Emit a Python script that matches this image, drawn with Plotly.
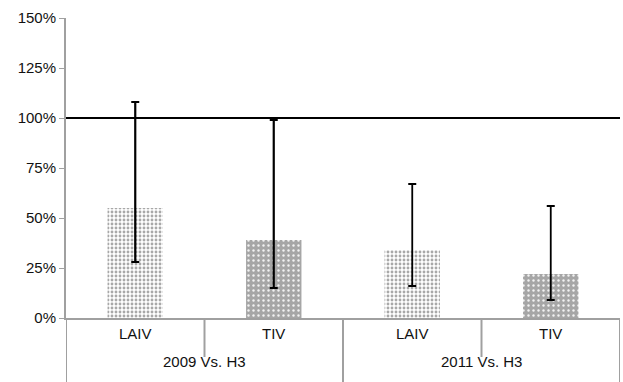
import plotly.graph_objects as go

groups = ["2009 Vs. H3", "2009 Vs. H3", "2011 Vs. H3", "2011 Vs. H3"]
vaccines = ["LAIV", "TIV", "LAIV", "TIV"]
values = [55, 39, 34, 22]
upper = [108, 99, 67, 56]
lower = [28, 15, 16, 9]
y_ticks = [0, 25, 50, 75, 100, 125, 150]
reference_line = 100

xpos = list(range(len(values)))
err_plus = [u - v for u, v in zip(upper, values)]
err_minus = [v - l for v, l in zip(values, lower)]

fig = go.Figure()
styles = {
    "LAIV": dict(color="white", pattern=dict(shape=".", fgcolor="#a8a8a8", bgcolor="white",
                                              size=4, solidity=0.4, fillmode="replace")),
    "TIV": dict(color="#aaaaaa", pattern=dict(shape=".", fgcolor="#f2f2f2", bgcolor="#a6a6a6",
                                               size=5, solidity=0.18, fillmode="replace")),
}
thick = [2.2, 2.2, 1.8, 1.8]
for i, (x, v) in enumerate(zip(xpos, values)):
    fig.add_trace(go.Bar(
        x=[x], y=[v], width=0.4,
        marker=dict(color=styles[vaccines[i]]["color"], pattern=styles[vaccines[i]]["pattern"],
                    line=dict(width=0)),
        error_y=dict(type="data", symmetric=False, array=[err_plus[i]], arrayminus=[err_minus[i]],
                     color="black", thickness=thick[i], width=4),
        showlegend=False,
    ))

# reference line at 100%
fig.add_shape(type="line", xref="paper", x0=0, x1=1, yref="y", y0=reference_line, y1=reference_line,
              line=dict(color="black", width=2), layer="above")

# category table dividers
axis_col = "#a0a0a0"
for b in [-0.5, 1.5, 3.5]:
    fig.add_shape(type="line", xref="x", x0=b, x1=b, yref="paper", y0=0, y1=-0.25,
                  line=dict(color=axis_col, width=2))
for b in [0.5, 2.5]:
    fig.add_shape(type="line", xref="x", x0=b, x1=b, yref="paper", y0=0, y1=-0.13,
                  line=dict(color=axis_col, width=2))

font = dict(family="Liberation Sans, Arial", size=15, color="#111111")
for x, lab in zip(xpos, vaccines):
    fig.add_annotation(x=x, xref="x", y=0, yref="paper", yshift=-26, text=lab, showarrow=False,
                       font=font)
for g in dict.fromkeys(groups):
    idx = [i for i, gg in enumerate(groups) if gg == g]
    cx = sum(xpos[i] for i in idx) / len(idx)
    fig.add_annotation(x=cx, xref="x", y=0, yref="paper", yshift=-54, text=g, showarrow=False,
                       font=font)

fig.update_layout(
    width=623, height=382,
    margin=dict(l=66, r=3, t=18, b=64, autoexpand=False),
    plot_bgcolor="white", paper_bgcolor="white",
    bargap=0.6,
    xaxis=dict(range=[-0.5, 3.5], showticklabels=False, showgrid=False, zeroline=False,
               showline=True, linecolor=axis_col, linewidth=2, ticks=""),
    yaxis=dict(range=[0, 150], tickvals=y_ticks, ticktext=[f"{t}%" for t in y_ticks],
               showgrid=False, zeroline=False, showline=True, linecolor=axis_col, linewidth=2,
               ticks="outside", ticklen=5, tickcolor=axis_col, tickwidth=1,
               tickfont=font),
)

fig.write_html("out.html", config={"displayModeBar": False},
               post_script="document.body.style.margin='0';document.body.style.overflow='hidden';")
